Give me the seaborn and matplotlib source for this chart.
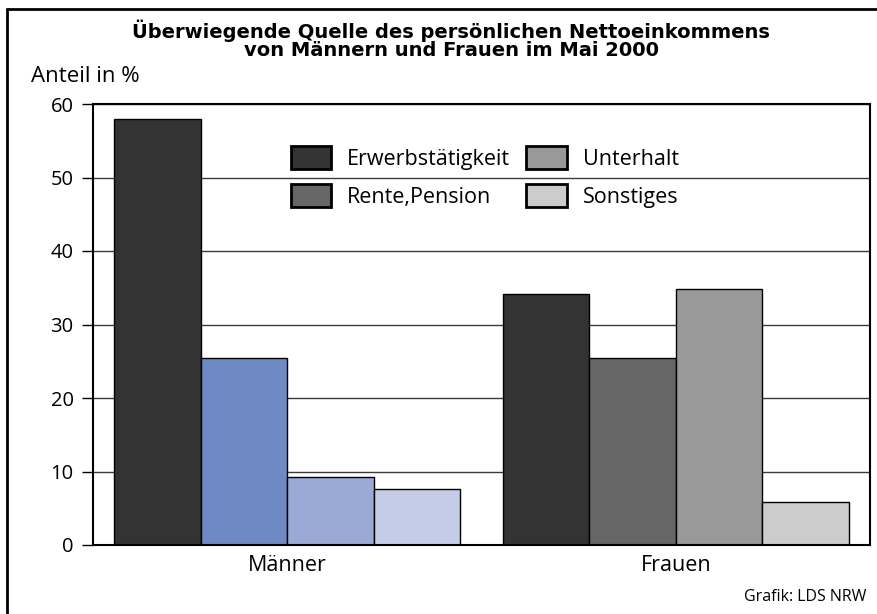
import matplotlib
matplotlib.use("Agg")
import matplotlib.pyplot as plt
import matplotlib.patches as mpatches
from matplotlib.lines import Line2D
import pandas as pd
import seaborn as sns

gruppen = ["Männer", "Frauen"]
quellen = ["Erwerbstätigkeit", "Rente,Pension", "Unterhalt", "Sonstiges"]
maenner = [57.9, 25.5, 9.3, 7.6]
frauen = [34.2, 25.5, 34.8, 5.8]
yticks = [0, 10, 20, 30, 40, 50, 60]

grau = ["#333333", "#666666", "#999999", "#cccccc"]
blau = ["#333333", "#6f89c4", "#9aaad6", "#c5cce8"]

df = pd.DataFrame({
    "Gruppe": [g for g in gruppen for _ in quellen],
    "Quelle": quellen * 2,
    "Anteil": maenner + frauen,
})

sns.set_theme(style="white")
plt.rcParams["font.family"] = ["Open Sans", "DejaVu Sans"]
for key in ["text.color", "axes.labelcolor", "xtick.color", "ytick.color"]:
    plt.rcParams[key] = "black"

W, H = 877, 614
fig = plt.figure(figsize=(W / 100, H / 100), dpi=100)
ax = fig.add_axes([93 / W, 1 - 545 / H, 777 / W, 441 / H])

ax.yaxis.grid(True, color="#3a3a3a", linewidth=1)
ax.set_axisbelow(True)

sns.barplot(data=df, x="Gruppe", y="Anteil", hue="Quelle", order=gruppen,
            hue_order=quellen, palette=grau, saturation=1, width=0.89,
            edgecolor="black", linewidth=1, legend=False, ax=ax)

# Männer-Balken in Blautönen einfärben
for i, cont in enumerate(ax.containers):
    for bar in cont:
        if bar.get_x() + bar.get_width() / 2 < 0.5:
            bar.set_facecolor(blau[i])

ax.set_ylim(0, 60)
ax.set_xlim(-0.5, 1.5)
ax.set_yticks(yticks)
ax.set_xlabel("")
ax.set_ylabel("")
ax.tick_params(axis="y", left=True, direction="out", length=8, width=1,
               color="black", pad=6, labelsize=14.5)
ax.tick_params(axis="x", bottom=False, length=0, pad=7, labelsize=15.5)
for sp in ax.spines.values():
    sp.set_color("black")
    sp.set_linewidth(1.5)
    sp.set_visible(True)

handles = [mpatches.Patch(facecolor=c, edgecolor="black", linewidth=2) for c in grau]
ax.legend(handles, quellen, ncol=2, loc="upper left", bbox_to_anchor=(0.255, 0.905),
          frameon=False, fontsize=15.5, handlelength=1.86, handleheight=1.3,
          handletextpad=0.75, columnspacing=0.75, labelspacing=0.64,
          borderpad=0, borderaxespad=0)

fig.text(451 / W, 1 - 40 / H,
         "Überwiegende Quelle des persönlichen Nettoeinkommens\nvon Männern und Frauen im Mai 2000",
         ha="center", va="center", fontsize=14, fontweight="bold",
         family="DejaVu Sans", linespacing=0.9)
fig.text(31 / W, 1 - 77 / H, "Anteil in %", ha="left", va="center", fontsize=16)
fig.text(866 / W, 1 - 597 / H, "Grafik: LDS NRW", ha="right", va="center", fontsize=11.5)

# Rahmen (rechts und unten abgeschnitten)
fig.add_artist(Line2D([7 / W, 7 / W], [0, 1 - 9 / H], transform=fig.transFigure,
                      color="black", linewidth=2))
fig.add_artist(Line2D([7 / W, 1], [1 - 9 / H, 1 - 9 / H], transform=fig.transFigure,
                      color="black", linewidth=2))

fig.savefig("out.png", dpi=100)
